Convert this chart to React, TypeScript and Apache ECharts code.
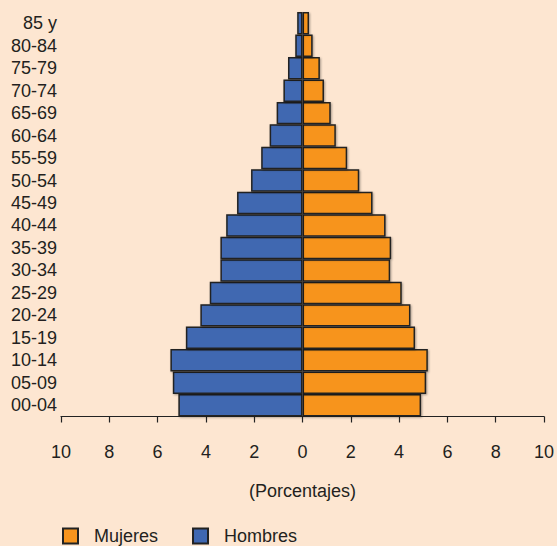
import React, { useEffect, useRef } from "react";
import * as echarts from "echarts";

const categories = [
  "00-04", "05-09", "10-14", "15-19", "20-24", "25-29", "30-34", "35-39", "40-44",
  "45-49", "50-54", "55-59", "60-64", "65-69", "70-74", "75-79", "80-84", "85 y",
];
const hombres = [5.14, 5.37, 5.47, 4.83, 4.23, 3.84, 3.4, 3.4, 3.16, 2.71, 2.13, 1.71, 1.36, 1.07, 0.79, 0.6, 0.3, 0.22];
const mujeres = [4.91, 5.12, 5.19, 4.66, 4.47, 4.11, 3.63, 3.67, 3.44, 2.9, 2.35, 1.85, 1.38, 1.17, 0.89, 0.72, 0.42, 0.27];
const axisName = "(Porcentajes)";

const FONT = "'Liberation Sans', Arial, Helvetica, sans-serif";
const TEXT = "#231f20";

export default function App() {
  const ref = useRef<HTMLDivElement>(null);
  useEffect(() => {
    if (!ref.current) return;
    const chart = echarts.init(ref.current, undefined, { renderer: "svg" });
    const barStyle = (color: string) => ({
      color,
      borderColor: "#222222",
      borderWidth: 1.5,
      shadowColor: "rgba(0,0,0,0.35)",
      shadowBlur: 2,
      shadowOffsetX: 1,
      shadowOffsetY: 1,
    });
    chart.setOption({
      animation: false,
      backgroundColor: "#fde6d1",
      textStyle: { fontFamily: FONT, color: TEXT },
      grid: { left: 61, right: 12, top: 12, bottom: 129.5, containLabel: false },
      legend: {
        data: ["Mujeres", "Hombres"],
        left: 62,
        top: 527,
        itemWidth: 15,
        itemHeight: 15,
        itemGap: 34,
        icon: "rect",
        padding: 0,
        textStyle: { fontSize: 18, color: TEXT, fontFamily: FONT, padding: [10, 0, 0, 11] },
      },
      xAxis: {
        type: "value",
        min: -10,
        max: 10,
        interval: 2,
        name: axisName,
        nameLocation: "middle",
        nameGap: 65,
        nameTextStyle: { fontSize: 18, color: TEXT, fontFamily: FONT },
        axisLine: { show: true, lineStyle: { color: "#222222", width: 1.2 } },
        axisTick: { show: true, length: 6, lineStyle: { color: "#222222", width: 1.2 } },
        axisLabel: {
          margin: 26,
          fontSize: 18,
          color: TEXT,
          fontFamily: FONT,
          formatter: (v: number) => String(Math.abs(v)),
        },
        splitLine: { show: false },
      },
      yAxis: {
        type: "category",
        data: categories,
        axisLine: { show: false },
        axisTick: { show: false },
        axisLabel: { interval: 0, margin: 4, fontSize: 18, color: TEXT, fontFamily: FONT },
        splitLine: { show: false },
      },
      series: [
        {
          name: "Mujeres",
          type: "bar",
          stack: "pop",
          barCategoryGap: 0,
          data: mujeres,
          itemStyle: barStyle("#f7941d"),
        },
        {
          name: "Hombres",
          type: "bar",
          stack: "pop",
          barCategoryGap: 0,
          data: hombres.map((v) => -v),
          itemStyle: barStyle("#3f67b1"),
        },
      ],
    });
    return () => chart.dispose();
  }, []);
  return (
    <div
      ref={ref}
      style={{ position: "absolute", left: 0, top: 0, width: 557, height: 546 }}
    />
  );
}
